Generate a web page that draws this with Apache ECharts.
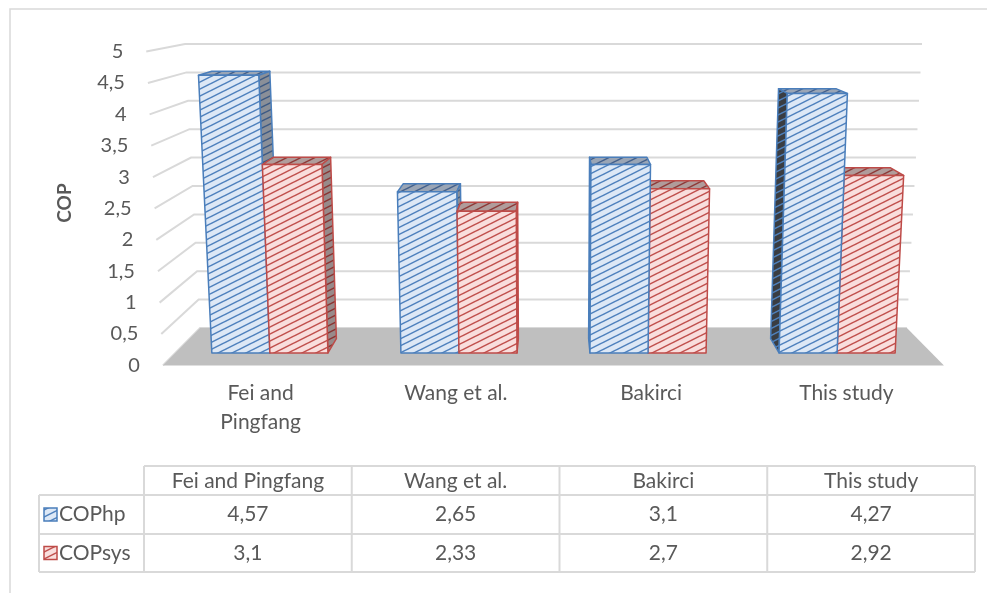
<!DOCTYPE html>
<html>
<head>
<meta charset="utf-8">
<title>COP</title>
<script src="https://cdn.jsdelivr.net/npm/echarts@6.0.0/dist/echarts.min.js"></script>
<style>
html, body { margin: 0; padding: 0; background: #fff; }
#chart { width: 987px; height: 593px; }
</style>
</head>
<body>
<div id="chart"></div>
<script>
// data
const categories = ['Fei and Pingfang', 'Wang et al.', 'Bakirci', 'This study']
const axisLabels = ['Fei and\nPingfang', 'Wang et al.', 'Bakirci', 'This study']
const seriesNames = ['COPhp', 'COPsys']
const copHp = [4.57, 2.65, 3.1, 4.27]
const copSys = [3.1, 2.33, 2.7, 2.92]
const yTicks = [0, 0.5, 1, 1.5, 2, 2.5, 3, 3.5, 4, 4.5, 5]

// fake 3d: the grid is the back wall, everything else is projected from it
const GRID = { left: 185, top: 44, right: 65, bottom: 265 }
const VPX = 554
const VPY = -28
const SHRINK = 0.041 / 284
const FLOOR_FRONT = 1.105
const BAR_BACK = 1.03
const BAR_FRONT = 1.07
const BAR_FRAC = 0.307
const FONT = 'Lato, "Open Sans", sans-serif'
const TXT = '#595959'
const LINE = '#d9d9d9'

function proj (p, d) {
  const w = 1 - (p[1] - GRID.top) * SHRINK
  const x = VPX + (p[0] - VPX) * w
  return [VPX + (x - VPX) * d, VPY + (p[1] - VPY) * d]
}

function hatch (bg, fg) {
  const c = document.createElement('canvas')
  c.width = 14
  c.height = 7
  const g = c.getContext('2d')
  g.fillStyle = bg
  g.fillRect(0, 0, 14, 7)
  g.strokeStyle = fg
  g.lineWidth = 1.5
  for (const dy of [-7, 0, 7]) {
    g.beginPath()
    g.moveTo(-1, 7.5 + dy)
    g.lineTo(15, -0.5 + dy)
    g.stroke()
  }
  return { image: c, repeat: 'repeat' }
}

const looks = [
  { stroke: '#4a7ebb', front: hatch('#dde8f6', '#4f81bd'), top: hatch('#9aa5b5', '#44618c'), right: hatch('#8a8f98', '#3d5a84'), left: hatch('#3a3d42', '#4f81bd') },
  { stroke: '#be4b48', front: hatch('#f9dedd', '#c0504d'), top: hatch('#b09c9b', '#8e3b39'), right: hatch('#988a8a', '#8a3533'), left: hatch('#403636', '#c0504d') }
]

const barData = []
;[copHp, copSys].forEach((arr, s) => arr.forEach((v, i) => barData.push([i, v, s])))

function fmt (v) {
  return String(v).replace('.', ',')
}

function renderWall (params, api) {
  const cs = params.coordSys
  const v = api.value(1)
  const y = api.coord([0, v])[1]
  const a = proj([cs.x, y], FLOOR_FRONT)
  const b = proj([cs.x, y], 1)
  const c = proj([cs.x + cs.width, y], 1)
  return {
    type: 'group',
    children: [
      { type: 'polyline', shape: { points: [a, b, c] }, style: { stroke: LINE, lineWidth: 2, fill: null } },
      { type: 'text', style: { text: fmt(v), x: a[0] - 23, y: a[1], align: 'right', verticalAlign: 'middle', font: '20px ' + FONT, fill: TXT } }
    ]
  }
}

function renderFloor (params, api) {
  const cs = params.coordSys
  const y0 = api.coord([0, 0])[1]
  const l = cs.x
  const r = cs.x + cs.width
  return {
    type: 'polygon',
    shape: { points: [proj([l, y0], 1), proj([r, y0], 1), proj([r, y0], FLOOR_FRONT), proj([l, y0], FLOOR_FRONT)] },
    style: { fill: '#bfbfbf' }
  }
}

function renderBar (params, api) {
  const cat = api.value(0)
  const val = api.value(1)
  const s = api.value(2)
  const look = looks[s]
  const band = api.size([1, 0])[0]
  const mid = api.coord([cat, 0])
  const bw = band * BAR_FRAC
  const xl = mid[0] - bw + s * bw
  const xr = xl + bw
  const yt = api.coord([cat, val])[1]
  const yb = mid[1]
  const P = (x, y, d) => proj([x, y], d)
  // bars further from the vanishing point are drawn first
  const base = 1000 - Math.abs((xl + xr) / 2 - VPX)
  const face = (pts, fill, dz) => ({
    type: 'polygon',
    z2: base + dz,
    shape: { points: pts },
    style: { fill: fill, stroke: look.stroke, lineWidth: 1.5, lineJoin: 'round' }
  })
  const kids = []
  kids.push(face([P(xl, yt, BAR_BACK), P(xr, yt, BAR_BACK), P(xr, yt, BAR_FRONT), P(xl, yt, BAR_FRONT)], look.top, 0))
  if (xr < VPX) {
    kids.push(face([P(xr, yt, BAR_BACK), P(xr, yt, BAR_FRONT), P(xr, yb, BAR_FRONT), P(xr, yb, BAR_BACK)], look.right, 0.1))
  }
  if (xl > VPX) {
    kids.push(face([P(xl, yt, BAR_BACK), P(xl, yt, BAR_FRONT), P(xl, yb, BAR_FRONT), P(xl, yb, BAR_BACK)], look.left, 0.1))
  }
  kids.push(face([P(xl, yt, BAR_FRONT), P(xr, yt, BAR_FRONT), P(xr, yb, BAR_FRONT), P(xl, yb, BAR_FRONT)], look.front, 0.2))
  return { type: 'group', children: kids }
}

function renderCatLabel (params, api) {
  const p = proj(api.coord([api.value(0), 0]), FLOOR_FRONT)
  return {
    type: 'text',
    style: { text: axisLabels[params.dataIndex], x: p[0], y: p[1] + 13, align: 'center', verticalAlign: 'top', font: '21px ' + FONT, lineHeight: 29, fill: TXT }
  }
}

// data table under the chart
const TX = [144, 351.75, 559.5, 767.25, 975]
const TY = [466, 495, 534, 572]
const TL = 39
const tableEls = [
  { type: 'rect', shape: { x: 10, y: 9, width: 1000, height: 620 }, style: { fill: null, stroke: LINE, lineWidth: 1.5 } },
  { type: 'text', x: 65, y: 203, rotation: Math.PI / 2, style: { text: 'COP', align: 'center', verticalAlign: 'middle', font: 'bold 19px ' + FONT, fill: TXT } }
]
const hline = (x1, x2, y) => ({ type: 'line', shape: { x1: x1, y1: y, x2: x2, y2: y }, style: { stroke: LINE, lineWidth: 2 } })
const vline = (x, y1, y2) => ({ type: 'line', shape: { x1: x, y1: y1, x2: x, y2: y2 }, style: { stroke: LINE, lineWidth: 2 } })
tableEls.push(hline(TX[0], TX[4], TY[0]))
TY.slice(1).forEach(y => tableEls.push(hline(TL, TX[4], y)))
tableEls.push(vline(TL, TY[1], TY[3]))
TX.forEach(x => tableEls.push(vline(x, TY[0], TY[3])))
categories.forEach((c, i) => {
  tableEls.push({ type: 'text', x: (TX[i] + TX[i + 1]) / 2, y: (TY[0] + TY[1]) / 2 + 1, style: { text: c, align: 'center', verticalAlign: 'middle', font: '21px ' + FONT, fill: TXT } })
})
;[copHp, copSys].forEach((arr, s) => {
  const cy = (TY[s + 1] + TY[s + 2]) / 2
  tableEls.push({ type: 'rect', shape: { x: 44, y: cy - 6.5, width: 13, height: 13 }, style: { fill: looks[s].front, stroke: looks[s].stroke, lineWidth: 1.5 } })
  tableEls.push({ type: 'text', x: 59, y: cy, style: { text: seriesNames[s], align: 'left', verticalAlign: 'middle', font: '21px ' + FONT, fill: TXT } })
  arr.forEach((v, i) => {
    tableEls.push({ type: 'text', x: (TX[i] + TX[i + 1]) / 2, y: cy, style: { text: fmt(v), align: 'center', verticalAlign: 'middle', font: '21px ' + FONT, fill: TXT } })
  })
})
tableEls.forEach(e => { e.silent = true })

const chart = echarts.init(document.getElementById('chart'))
chart.setOption({
  animation: false,
  backgroundColor: '#fff',
  grid: { left: GRID.left, top: GRID.top, right: GRID.right, bottom: GRID.bottom },
  xAxis: { type: 'category', data: categories, show: false },
  yAxis: { type: 'value', min: 0, max: 5, interval: 0.5, show: false },
  graphic: tableEls,
  series: [
    { name: 'wall', type: 'custom', coordinateSystem: 'cartesian2d', z: 1, silent: true, clip: false, data: yTicks.map(v => [0, v]), renderItem: renderWall },
    { name: 'floor', type: 'custom', coordinateSystem: 'cartesian2d', z: 2, silent: true, clip: false, data: [[0, 0]], renderItem: renderFloor },
    { name: 'bars', type: 'custom', coordinateSystem: 'cartesian2d', z: 3, silent: true, clip: false, data: barData, renderItem: renderBar },
    { name: 'labels', type: 'custom', coordinateSystem: 'cartesian2d', z: 4, silent: true, clip: false, data: categories.map((c, i) => [i, 0]), renderItem: renderCatLabel }
  ]
})
window.addEventListener('resize', function () {
  chart.resize()
})
</script>
</body>
</html>
